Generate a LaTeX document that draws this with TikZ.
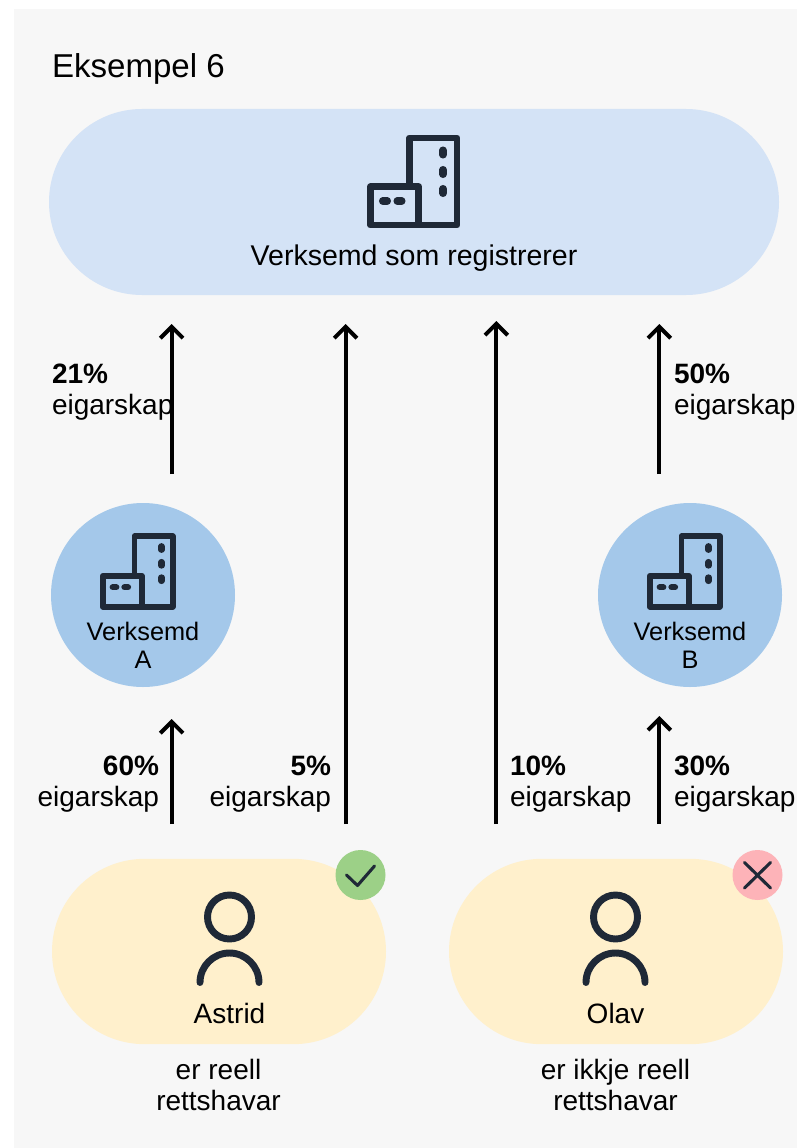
\documentclass[tikz,border=0pt]{standalone}
\usepackage{fontspec}
\setmainfont{Liberation Sans}
\usetikzlibrary{arrows.meta,shapes.misc}
\definecolor{panelbg}{HTML}{F7F7F7}
\definecolor{mainblue}{HTML}{D4E3F6}
\definecolor{subblue}{HTML}{A4C8EA}
\definecolor{ownyellow}{HTML}{FFF0CC}
\definecolor{icondark}{HTML}{1F2937}
\definecolor{yesgreen}{HTML}{9CD087}
\definecolor{nopink}{HTML}{FDB3B8}
\tikzset{
  pill/.style={rounded rectangle,fill=#1,inner sep=0pt,outer sep=0pt},
  badge/.style={circle,fill=#1,minimum size=37.5pt,inner sep=0pt,outer sep=0pt},
  subcircle/.style={circle,fill=subblue,minimum size=138pt,inner sep=0pt,outer sep=0pt},
  owns/.style={-{Straight Barb[length=8.5pt,width=17pt]},line width=3pt,black},
  txt/.style={font=\fontsize{21}{23.5}\selectfont,inner sep=0pt,outer sep=0pt},
  small/.style={font=\fontsize{19}{21}\selectfont,inner sep=0pt,outer sep=0pt,align=center},
  pics/building/.style={code={
    \draw[icondark,line join=round] (-4.5,5.2) -- (-4.5,-43.5) -- (43,-43.5) -- (43,43.5) -- (4.7,43.5);
    \draw[icondark,line join=round] (-43.5,5.2) rectangle (4.7,43.5);
    \foreach \dy in {-29,-9.5,9.5} {
      \draw[icondark,line cap=round,line width=1.05*\pgflinewidth] (29,\dy-2.2) -- (29,\dy+2.2);
    }
    \foreach \dx in {-29,-14.5} {
      \draw[icondark,line cap=round,line width=1.05*\pgflinewidth] (\dx-2.2,19.5) -- (\dx+2.2,19.5);
    }
  }},
  pics/person/.style={code={
    \draw[icondark,line width=5.2pt] (0,-34.5) circle[radius=22];
    \draw[icondark,line width=5.2pt,line cap=round] (-29.5,31) arc[start angle=180,end angle=360,radius=29.5];
  }}
}
\begin{document}
\begin{tikzpicture}[x=0.75pt,y=-0.75pt]
\useasboundingbox (0,0) rectangle (797,1148);
\fill[panelbg] (14,9) rectangle (797,1148);
\node[txt,font=\fontsize{24.8}{28}\selectfont,anchor=base west] (title) at (52,77.5) {Eksempel 6};

% main company
\node[pill=mainblue,minimum width=547.5pt,minimum height=139.5pt] (company) at (414,202) {};
\pic[line width=5.2pt] at (414,181.5) {building};
\node[txt,font=\fontsize{21.4}{24}\selectfont] (companytxt) at (414,258) {Verksemd som registrerer};

% the two owned companies
\node[subcircle] (verkA) at (143,595) {};
\pic[scale=0.81,line width=4.2pt] at (138,571.5) {building};
\node[small] (verkAtxt) at (143,645) {Verksemd\\A};
\node[subcircle] (verkB) at (690,595) {};
\pic[scale=0.81,line width=4.2pt] at (685,571.5) {building};
\node[small] (verkBtxt) at (690,645) {Verksemd\\B};

% people
\node[pill=ownyellow,minimum width=250.5pt,minimum height=139pt] (astrid) at (219,951.5) {};
\node[pill=ownyellow,minimum width=250.5pt,minimum height=139pt] (olav) at (616,951.5) {};
\pic at (229.5,951.5) {person};
\pic at (615.5,951.5) {person};
\node[txt] (astridtxt) at (229.5,1013) {Astrid};
\node[txt] (olavtxt) at (615.5,1013) {Olav};
\node[txt,align=center] (astridnote) at (218.5,1085) {er reell\\rettshavar};
\node[txt,align=center] (olavnote) at (615.5,1085) {er ikkje reell\\rettshavar};

\node[badge=yesgreen] (yes) at (360.5,875) {};
\draw[icondark,line width=2.3pt,line cap=round,line join=round] (346.5,875) -- (357.5,885.5) -- (374.5,866);
\node[badge=nopink] (no) at (757.5,875) {};
\draw[icondark,line width=2.3pt,line cap=round] (744.5,862.5) -- (770.5,888) (770.5,862.5) -- (744.5,888);

% arrow ends
\coordinate (a1s) at (171.7,474);
\coordinate (a1e) at (171.7,324);
\coordinate (a2s) at (345.5,824);
\coordinate (a2e) at (345.5,324);
\coordinate (a3s) at (496.3,824);
\coordinate (a3e) at (496.3,321);
\coordinate (a4s) at (659.3,474);
\coordinate (a4e) at (659.3,324);
\coordinate (a5s) at (171.7,824);
\coordinate (a5e) at (171.7,719);
\coordinate (a6s) at (659.3,824);
\coordinate (a6e) at (659.3,716);
\foreach \n in {1,...,6} {
  \draw[owns] (a\n s) -- (a\n e);
}

\node[txt,align=left,anchor=west] (p21) at (52,392) {\textbf{21\%}\\eigarskap};
\node[txt,align=left,anchor=west] (p50) at (674,392) {\textbf{50\%}\\eigarskap};
\node[txt,align=right,anchor=east] (p60) at (159,784) {\textbf{60\%}\\eigarskap};
\node[txt,align=right,anchor=east] (p5) at (331,784) {\textbf{5\%}\\eigarskap};
\node[txt,align=left,anchor=west] (p10) at (510,784) {\textbf{10\%}\\eigarskap};
\node[txt,align=left,anchor=west] (p30) at (674,784) {\textbf{30\%}\\eigarskap};
\end{tikzpicture}
\end{document}
